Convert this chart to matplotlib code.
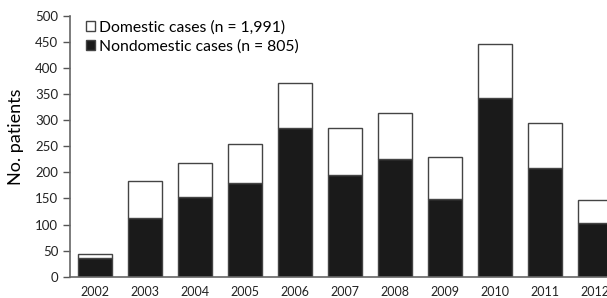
import matplotlib
matplotlib.use("Agg")
import matplotlib.pyplot as plt
import numpy as np

years = ["2002", "2003", "2004", "2005", "2006", "2007", "2008", "2009", "2010", "2011", "2012"]
black_values = [35, 112, 153, 179, 284, 195, 226, 149, 343, 208, 103]
white_values = [8, 71, 65, 75, 88, 89, 88, 80, 103, 86, 43]
label_white = "Domestic cases (n = 1,991)"
label_black = "Nondomestic cases (n = 805)"
yticks = [0, 50, 100, 150, 200, 250, 300, 350, 400, 450, 500]

plt.rcParams['font.family'] = ['Lato', 'DejaVu Sans']

fig = plt.figure(figsize=(6.07, 2.98), dpi=100)
ax = fig.add_axes([70/607, (298-276.7)/298, 550/607, 261/298])

x = np.arange(len(years))
edge = "#444444"
ax.bar(x, black_values, width=0.68, color="#1a1a1a", edgecolor=edge, linewidth=1.0, label=label_black)
ax.bar(x, white_values, width=0.68, bottom=black_values, color="white", edgecolor=edge, linewidth=1.0, label=label_white)

ax.set_xlim(-0.5, 10.5)
ax.set_ylim(0, 500)
ax.set_yticks(yticks)
ax.set_xticks(x)
ax.set_xticklabels(years)
ax.tick_params(axis='x', length=0, labelsize=9, pad=7, colors="#222222")
ax.tick_params(axis='y', length=5, width=1, labelsize=9.5, direction='out', colors="#555555", labelcolor="#222222")
for s in ["top", "right"]:
    ax.spines[s].set_visible(False)
for s in ["left", "bottom"]:
    ax.spines[s].set_color("#666666")
    ax.spines[s].set_linewidth(1.2)
ax.set_ylabel("No. patients", fontsize=13)
ax.yaxis.set_label_coords(-0.084, 0.535)

h, l = ax.get_legend_handles_labels()
leg = ax.legend([h[1], h[0]], [l[1], l[0]], loc="upper left", bbox_to_anchor=(86/607, 1 - 20/298),
                bbox_transform=fig.transFigure, frameon=False, fontsize=11.3,
                handlelength=0.55, handleheight=0.55, handletextpad=0.3, labelspacing=0.32,
                borderaxespad=0, borderpad=0)

fig.savefig("out.png", dpi=100)
